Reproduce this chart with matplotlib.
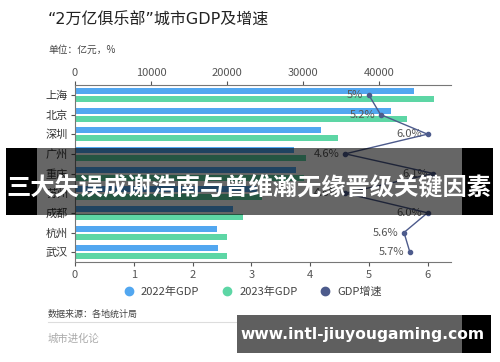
import numpy as np
import matplotlib
matplotlib.use("Agg")
import matplotlib.pyplot as plt
from matplotlib.patches import Rectangle
from matplotlib.lines import Line2D

plt.rcParams['font.family'] = ['Noto Sans CJK SC', 'DejaVu Sans']

cities = ['上海', '北京', '深圳', '广州', '重庆', '苏州', '成都', '杭州', '武汉']
gdp_2022 = [44653, 41611, 32388, 28839, 29129, 23958, 20817, 18753, 18866]
gdp_2023 = [47219, 43761, 34606, 30356, 30146, 24653, 22075, 20059, 20012]
growth = [5.0, 5.2, 6.0, 4.6, 6.1, 4.6, 6.0, 5.6, 5.7]
growth_labels = ['5%', '5.2%', '6.0%', '4.6%', '6.1%', '4.6%', '6.0%', '5.6%', '5.7%']

c22 = '#52a7f0'
c23 = '#5dd6a5'
cline = '#4d5b8c'
axc = '#555555'

fig = plt.figure(figsize=(5, 3.62), dpi=100)
W, H = 500, 362
def fx(px): return px / W
def fy(py): return 1 - py / H

ax = fig.add_axes([fx(75), fy(262), fx(451) - fx(75), fy(85) - fy(262)])
y = np.arange(len(cities))
ax.barh(y - 0.19, gdp_2022, height=0.3, color=c22)
ax.barh(y + 0.21, gdp_2023, height=0.3, color=c23)
ax.set_xlim(0, 49500)
ax.set_ylim(len(cities) - 0.5, -0.5)
ax.set_yticks(y)
ax.set_yticklabels(cities, fontsize=8, color='#333333')

ax2 = ax.twiny()
ax2.xaxis.tick_bottom()
ax.xaxis.tick_top()
ax.set_xticks([0, 10000, 20000, 30000, 40000])
ax.tick_params(axis='x', labelsize=8, colors=axc, length=3, pad=2)
ax.tick_params(axis='y', length=3, colors=axc, pad=2)
for t in ax.get_yticklabels():
    t.set_color('#333333')
for s in ['right', 'bottom']:
    ax.spines[s].set_visible(False)
for s in ['top', 'left']:
    ax.spines[s].set_color('#777777')
    ax.spines[s].set_linewidth(0.8)

ax2.plot(growth, y, color=cline, lw=1.0, marker='o', ms=3, zorder=5)
for g, yy, lab in zip(growth, y, growth_labels):
    ax2.text(g - 0.09, yy, lab, ha='right', va='center', fontsize=8, color='#555555')
ax2.set_xlim(0, 6.4)
ax2.set_xticks(range(7))
ax2.tick_params(axis='x', labelsize=8, colors=axc, length=3, pad=3)
for s in ['right', 'top', 'left']:
    ax2.spines[s].set_visible(False)
ax2.spines['bottom'].set_visible(True)
ax2.spines['bottom'].set_color('#777777')
ax2.spines['bottom'].set_linewidth(0.8)

fig.text(fx(48), fy(20), '“2万亿俱乐部”城市GDP及增速', fontsize=11.5, color='#222222',
         va='center', family=['DejaVu Sans', 'Noto Sans CJK SC'])
fig.text(fx(48), fy(50), '单位：亿元，%', fontsize=7, color='#444444', va='center')

handles = [Line2D([], [], ls='', marker='o', ms=6, color=c) for c in (c22, c23, cline)]
fig.legend(handles, ['2022年GDP', '2023年GDP', 'GDP增速'], loc='center',
           bbox_to_anchor=(fx(250), fy(292)), ncol=3, frameon=False, fontsize=8,
           handletextpad=0.1, columnspacing=1.5, labelcolor='#444444')

fig.text(fx(48), fy(314), '数据来源：各地统计局', fontsize=6.5, color='#444444', va='center')
fig.add_artist(Line2D([fx(48), fx(452)], [fy(322), fy(322)], color='#dddddd', lw=0.8))
fig.text(fx(48), fy(339), '城市进化论', fontsize=7.5, color='#aaaaaa', va='center')

# headline overlay band
fig.add_artist(Rectangle((fx(37), fy(215)), fx(462) - fx(37), fy(148) - fy(215),
                         color='black', alpha=0.6, lw=0, zorder=10))
for x0, x1 in [(6, 37), (462, 493)]:
    fig.add_artist(Rectangle((fx(x0), fy(215)), fx(x1) - fx(x0), fy(148) - fy(215),
                             color='black', lw=0, zorder=10))
fig.text(fx(249), fy(187), '三大失误成谢浩南与曾维瀚无缘晋级关键因素', fontsize=17.5,
         fontweight='bold', color='white', ha='center', va='center', zorder=11)

# site watermark box
fig.add_artist(Rectangle((fx(237), fy(353)), fx(462) - fx(237), fy(315) - fy(353),
                         color='#5f5f5f', lw=0, zorder=10))
fig.add_artist(Rectangle((fx(462), fy(353)), fx(491) - fx(462), fy(315) - fy(353),
                         color='black', lw=0, zorder=10))
fig.text(fx(363), fy(334), 'www.intl-jiuyougaming.com', fontsize=11.2, fontweight='bold',
         color='white', ha='center', va='center', zorder=11, family='DejaVu Sans')

fig.savefig('out.png', dpi=100)
